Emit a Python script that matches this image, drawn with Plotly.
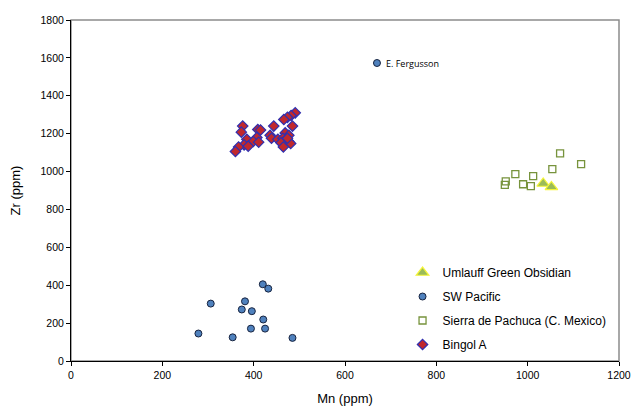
import plotly.graph_objects as go

# Mn (ppm) vs Zr (ppm) values
bingol_mn = [491, 482, 474, 466, 376, 444, 485, 409, 415, 373, 469, 477, 407, 436, 439, 385,
             399, 411, 453, 464, 471, 466, 477, 460, 481, 379, 367, 388, 465, 360, 474]
bingol_zr = [1310, 1296, 1286, 1275, 1240, 1240, 1240, 1222, 1219, 1208, 1204, 1191, 1180, 1191,
             1176, 1170, 1159, 1155, 1170, 1176, 1170, 1155, 1159, 1152, 1148, 1141, 1130, 1134,
             1130, 1106, 1176]

sierra_mn = [1071, 1117, 1054, 973, 1012, 952, 990, 950, 1007]
sierra_zr = [1096, 1039, 1013, 986, 976, 948, 933, 930, 923]

swp_mn = [420, 432, 306, 381, 374, 396, 421, 394, 425, 279, 354, 485, 670]
swp_zr = [405, 382, 303, 315, 272, 263, 219, 171, 171, 145, 125, 122, 1573]

umlauff_mn = [1034, 1052]
umlauff_zr = [937, 919]

x_ticks = [0, 200, 400, 600, 800, 1000, 1200]
y_ticks = [0, 200, 400, 600, 800, 1000, 1200, 1400, 1600, 1800]

fig = go.Figure()

fig.add_trace(go.Scatter(
    x=bingol_mn, y=bingol_zr, mode="markers", name="Bingol A",
    legendgroup="d", legendrank=4,
    marker=dict(symbol="diamond", size=8, color="#C0282D", line=dict(color="#3030B0", width=1.2))))

fig.add_trace(go.Scatter(
    x=sierra_mn, y=sierra_zr, mode="markers", name="Sierra de Pachuca (C. Mexico)",
    legendgroup="c", legendrank=3,
    marker=dict(symbol="square-open", size=7, color="#77933C", line=dict(width=1.3))))

fig.add_trace(go.Scatter(
    x=swp_mn, y=swp_zr, mode="markers", name="SW Pacific",
    legendgroup="b", legendrank=2,
    marker=dict(symbol="circle", size=7, color="#4F81BD", line=dict(color="#17233F", width=1))))

fig.add_trace(go.Scatter(
    x=umlauff_mn, y=umlauff_zr, mode="markers", name="Umlauff Green Obsidian",
    legendgroup="a", legendrank=1,
    marker=dict(symbol="triangle-up", size=11, color="#9BBB59", line=dict(color="#F5F53A", width=1.2))))

fig.add_annotation(x=swp_mn[-1], y=swp_zr[-1], text="E. Fergusson", showarrow=False,
                   xanchor="left", xshift=7, font=dict(family="Open Sans", size=9, color="#000000"))

# gray frame around the plot area
fig.add_shape(type="rect", xref="paper", yref="paper", x0=0, y0=0, x1=1, y1=1,
              line=dict(color="#8C8C8C", width=1.5), layer="below")

axis_font = dict(family="Liberation Sans, Arial", size=10.5, color="#000000")

# page body adds an 8px margin, so the figure is 8px smaller than the window
fig.update_layout(
    width=632, height=408,
    margin=dict(l=63, r=21, t=12, b=55),
    plot_bgcolor="white", paper_bgcolor="white",
    font=dict(family="Liberation Sans, Arial", color="#000000"),
    showlegend=True,
    legend=dict(x=0.605, y=0.302, xanchor="left", yanchor="top", bgcolor="rgba(0,0,0,0)",
                font=dict(size=12), tracegroupgap=5, itemwidth=30),
    xaxis=dict(range=[0, 1200], tickvals=x_ticks, showgrid=False, zeroline=False,
               showline=True, linecolor="#000000", linewidth=1, ticks="outside", ticklen=4,
               tickcolor="#000000", tickfont=axis_font, automargin=False,
               title=dict(text="Mn (ppm)", font=dict(size=13), standoff=14)),
    yaxis=dict(range=[0, 1800], tickvals=y_ticks, showgrid=False, zeroline=False,
               showline=True, linecolor="#000000", linewidth=1, ticks="outside", ticklen=4,
               tickcolor="#000000", tickfont=axis_font, automargin=False,
               title=dict(text="Zr (ppm)", font=dict(size=13), standoff=20)),
)

fig.write_html("out.html")
